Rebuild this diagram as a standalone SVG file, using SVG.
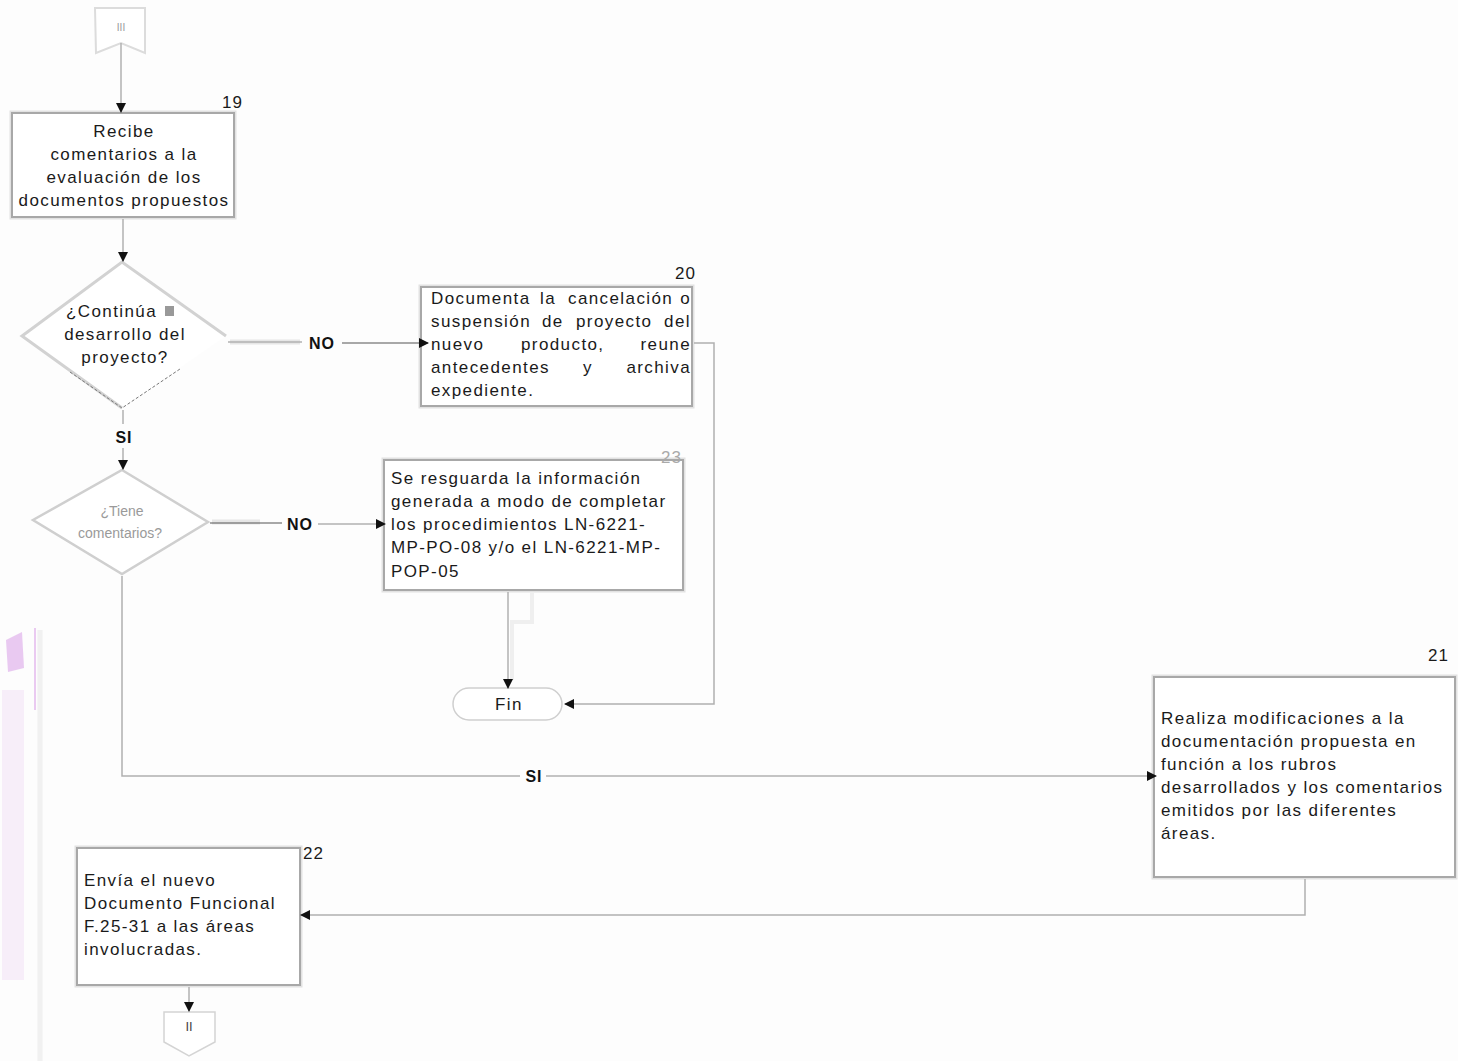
<svg xmlns="http://www.w3.org/2000/svg" width="1458" height="1061" viewBox="0 0 1458 1061">
  <style>
    .box { fill: #ffffff; stroke: #a8a8a8; stroke-width: 2; }
    .halo { fill: none; stroke: #e2e2e2; stroke-width: 5; }
    .t { font-family: "Liberation Sans", Arial, sans-serif; font-size: 17px; letter-spacing: 1.4px; fill: #1a1a1a; }
    .c { text-anchor: middle; }
    .e { text-anchor: end; }
    .num { font-family: "Liberation Sans", Arial, sans-serif; font-size: 17px; letter-spacing: 1px; fill: #1a1a1a; text-anchor: end; }
    .lbl { font-family: "Liberation Sans", Arial, sans-serif; font-size: 16px; font-weight: bold; letter-spacing: 1px; fill: #111; text-anchor: middle; }
    .ln { fill: none; stroke: #b0b0b0; stroke-width: 1.5; }
    .dk { fill: none; stroke: #555; stroke-width: 1.2; }
    .wide { fill: none; stroke: #e6e6e6; stroke-width: 5; }
  </style>
  <defs>
    <marker id="ah" viewBox="0 0 10 10" refX="9" refY="5" markerWidth="10" markerHeight="10" markerUnits="userSpaceOnUse" orient="auto">
      <path d="M0,0 L10,5 L0,10 Z" fill="#111"/>
    </marker>
  </defs>

  <rect width="1458" height="1061" fill="#fdfdfd"/>

  <!-- faint stamp along the left margin -->
  <g id="stamp" opacity="0.55">
    <path d="M6,640 L22,632 L24,668 L8,672 Z" fill="#d9a0e8"/>
    <rect x="2" y="690" width="22" height="290" fill="#f3e3f6"/>
    <line x1="35" y1="628" x2="35" y2="710" stroke="#cf82e0" stroke-width="1.5"/>
    <line x1="40" y1="630" x2="40" y2="1061" stroke="#e8e8e8" stroke-width="5"/>
  </g>

  <!-- off-page connector (top) -->
  <g id="conn-top">
    <path d="M95,8 H145 V53 L121,43 L96,53 Z" fill="#ffffff" stroke="#dcdcdc" stroke-width="2"/>
    <text x="121" y="31" font-family="Liberation Sans, Arial, sans-serif" font-size="10" fill="#999" text-anchor="middle">III</text>
  </g>

  <!-- step 19 -->
  <g id="n19">
    <rect class="halo" x="12" y="113" width="222" height="104"/>
    <rect class="box" x="12" y="113" width="222" height="104"/>
    <text class="num" x="243" y="108">19</text>
    <text class="t c" x="124" y="137">Recibe</text>
    <text class="t c" x="124" y="160">comentarios a la</text>
    <text class="t c" x="124" y="183">evaluación de los</text>
    <text class="t c" x="124" y="206">documentos propuestos</text>
  </g>

  <!-- decision: continue project -->
  <g id="d1">
    <path d="M122,262 L226,336 L122,408 L22,336 Z" fill="#ffffff" stroke="none"/>
    <path d="M122,408 L22,336 L122,262 L226,336" fill="none" stroke="#d2d2d2" stroke-width="3"/>
    <path d="M70,372 L122,408 L180,369" fill="none" stroke="#777" stroke-width="1" stroke-dasharray="3,2"/>
    <text class="t" x="66" y="317">¿Continúa</text>
    <rect x="165" y="306" width="9" height="10" fill="#999"/>
    <text class="t c" x="125" y="340">desarrollo del</text>
    <text class="t c" x="125" y="363">proyecto?</text>
  </g>

  <!-- step 20: justified paragraph, words placed one by one -->
  <g id="n20">
    <rect class="halo" x="421" y="287" width="271" height="119"/>
    <rect class="box" x="421" y="287" width="271" height="119"/>
    <text class="num" x="696" y="279">20</text>
    <text class="t" x="431" y="304">Documenta</text>
    <text class="t" x="540" y="304">la</text>
    <text class="t" x="568" y="304">cancelación</text>
    <text class="t e" x="691" y="304">o</text>
    <text class="t" x="431" y="327">suspensión</text>
    <text class="t" x="542" y="327">de</text>
    <text class="t" x="576" y="327">proyecto</text>
    <text class="t e" x="691" y="327">del</text>
    <text class="t" x="431" y="350">nuevo</text>
    <text class="t" x="521" y="350">producto,</text>
    <text class="t e" x="691" y="350">reune</text>
    <text class="t" x="431" y="373">antecedentes</text>
    <text class="t" x="583" y="373">y</text>
    <text class="t e" x="691" y="373">archiva</text>
    <text class="t" x="431" y="396">expediente.</text>
  </g>

  <!-- decision: has comments -->
  <g id="d2">
    <path d="M122,470 L208,522 L122,574 L33,520 Z" fill="#ffffff" stroke="#cfcfcf" stroke-width="2.5"/>
    <text x="122" y="516" font-family="Liberation Sans, Arial, sans-serif" font-size="14" fill="#9a9a9a" text-anchor="middle">¿Tiene</text>
    <text x="120" y="538" font-family="Liberation Sans, Arial, sans-serif" font-size="14" fill="#9a9a9a" text-anchor="middle">comentarios?</text>
  </g>

  <!-- step 23 -->
  <g id="n23">
    <rect class="halo" x="384" y="460" width="299" height="130"/>
    <rect class="box" x="384" y="460" width="299" height="130"/>
    <text class="num" x="682" y="463" style="fill:#aaa">23</text>
    <text class="t" x="391" y="484">Se resguarda la información</text>
    <text class="t" x="391" y="507">generada a modo de completar</text>
    <text class="t" x="391" y="530">los procedimientos LN-6221-</text>
    <text class="t" x="391" y="553">MP-PO-08 y/o el LN-6221-MP-</text>
    <text class="t" x="391" y="577">POP-05</text>
  </g>

  <!-- end -->
  <g id="fin">
    <rect x="453" y="688" width="109" height="32" rx="16" ry="16" fill="#ffffff" stroke="#cfcfcf" stroke-width="1.5"/>
    <text class="t c" x="509" y="710">Fin</text>
  </g>

  <!-- step 21 -->
  <g id="n21">
    <rect class="halo" x="1154" y="677" width="301" height="200"/>
    <rect class="box" x="1154" y="677" width="301" height="200"/>
    <text class="num" x="1449" y="661">21</text>
    <text class="t" x="1161" y="724">Realiza modificaciones a la</text>
    <text class="t" x="1161" y="747">documentación propuesta en</text>
    <text class="t" x="1161" y="770">función a los rubros</text>
    <text class="t" x="1161" y="793">desarrollados y los comentarios</text>
    <text class="t" x="1161" y="816">emitidos por las diferentes</text>
    <text class="t" x="1161" y="839">áreas.</text>
  </g>

  <!-- step 22 -->
  <g id="n22">
    <rect class="halo" x="77" y="848" width="223" height="137"/>
    <rect class="box" x="77" y="848" width="223" height="137"/>
    <text class="num" x="324" y="859">22</text>
    <text class="t" x="84" y="886">Envía el nuevo</text>
    <text class="t" x="84" y="909">Documento Funcional</text>
    <text class="t" x="84" y="932">F.25-31 a  las áreas</text>
    <text class="t" x="84" y="955">involucradas.</text>
  </g>

  <!-- off-page connector (bottom) -->
  <g id="conn-bottom">
    <path d="M164,1012 H215 V1042 L189,1056 L164,1042 Z" fill="#ffffff" stroke="#d4d4d4" stroke-width="1.5"/>
    <text x="189" y="1031" font-family="Liberation Sans, Arial, sans-serif" font-size="13" fill="#444" text-anchor="middle">II</text>
  </g>

  <!-- connectors -->
  <g id="connectors">
    <line class="ln" x1="121" y1="43" x2="121" y2="112" marker-end="url(#ah)"/>
    <line class="ln" x1="123" y1="219" x2="123" y2="261" marker-end="url(#ah)"/>
    <line class="wide" x1="230" y1="342" x2="300" y2="342"/>
    <line class="ln" x1="228" y1="342" x2="302" y2="342"/>
    <line class="dk" x1="342" y1="343" x2="428" y2="343" marker-end="url(#ah)"/>
    <line class="ln" x1="123" y1="410" x2="123" y2="424"/>
    <line class="ln" x1="123" y1="448" x2="123" y2="469" marker-end="url(#ah)"/>
    <line class="wide" x1="212" y1="522" x2="260" y2="522"/>
    <line class="dk" x1="210" y1="523" x2="282" y2="523"/>
    <line class="ln" x1="318" y1="524" x2="385" y2="524" marker-end="url(#ah)"/>
    <polyline class="ln" points="694,343 714,343 714,704 565,704" marker-end="url(#ah)"/>
    <polyline fill="none" stroke="#efefef" stroke-width="4" points="532,593 532,622 512,622 512,680"/>
    <line class="ln" x1="508" y1="592" x2="508" y2="688" marker-end="url(#ah)"/>
    <polyline class="ln" points="122,576 122,776 520,776"/>
    <line class="ln" x1="546" y1="776" x2="1156" y2="776" marker-end="url(#ah)"/>
    <polyline class="ln" points="1305,879 1305,915 301,915" marker-end="url(#ah)"/>
    <line class="ln" x1="189" y1="987" x2="189" y2="1011" marker-end="url(#ah)"/>
    <text class="lbl" x="322" y="349">NO</text>
    <text class="lbl" x="124" y="443">SI</text>
    <text class="lbl" x="300" y="530">NO</text>
    <text class="lbl" x="534" y="782">SI</text>
  </g>
</svg>
